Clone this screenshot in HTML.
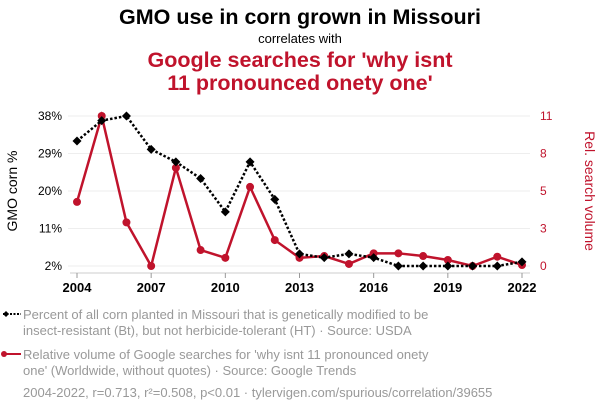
<!DOCTYPE html>
<html><head><meta charset="utf-8"><style>
body{margin:0;background:#fff;font-family:"Liberation Sans",sans-serif;}
svg{display:block}
</style></head><body>
<svg width="600" height="414" xmlns="http://www.w3.org/2000/svg">
<text x="300" y="24" text-anchor="middle" font-size="21.5" font-weight="bold" fill="#000">GMO use in corn grown in Missouri</text>
<text x="300" y="43" text-anchor="middle" font-size="13" fill="#000">correlates with</text>
<text x="300" y="67" text-anchor="middle" font-size="21.5" font-weight="bold" fill="#c0132c">Google searches for 'why isnt</text>
<text x="300" y="90" text-anchor="middle" font-size="21.5" font-weight="bold" fill="#c0132c">11 pronounced onety one'</text>
<g id="grid"></g>
<g id="axes"></g>
<g id="marks"></g>
<text transform="translate(17,191) rotate(-90)" text-anchor="middle" font-size="14" fill="#000">GMO corn %</text>
<text transform="translate(585,191) rotate(90)" text-anchor="middle" font-size="14" fill="#c0132c">Rel. search volume</text>
<g>
<line x1="3" y1="314" x2="21" y2="314" stroke="#000" stroke-width="2" stroke-dasharray="2,1.5"/>
<path d="M3 311 L6 314 L3 317 L0 314Z" fill="#000" transform="translate(3,0)"/>
<text x="23" y="319" font-size="13" fill="#999">Percent of all corn planted in Missouri that is genetically modified to be</text>
<text x="23" y="335" font-size="13" fill="#999">insect-resistant (Bt), but not herbicide-tolerant (HT) · Source: USDA</text>
</g>
<g>
<line x1="3" y1="354" x2="21" y2="354" stroke="#c0132c" stroke-width="2"/>
<circle cx="4" cy="354" r="3" fill="#c0132c"/>
<text x="23" y="359" font-size="13" fill="#999">Relative volume of Google searches for 'why isnt 11 pronounced onety</text>
<text x="23" y="375" font-size="13" fill="#999">one' (Worldwide, without quotes) · Source: Google Trends</text>
</g>
<text x="23" y="397" font-size="13" fill="#999">2004-2022, r=0.713, r²=0.508, p&lt;0.01 · tylervigen.com/spurious/correlation/39655</text>
</svg>
<script>
const years=[2004,2005,2006,2007,2008,2009,2010,2011,2012,2013,2014,2015,2016,2017,2018,2019,2020,2021,2022];
const gmo=[32,36.9,38,30,27,23,15,27,18,4.9,4,4.9,4,2,2,2,2,2,3];
const searches=[4.7,11,3.2,0,7.2,1.17,0.6,5.8,1.9,0.6,0.73,0.15,0.93,0.93,0.73,0.44,0,0.68,0.07];
const leftTicks=[2,11,20,29,38];
const leftTickLabels=["2%","11%","20%","29%","38%"];
const rightTicks=[0,2.75,5.5,8.25,11];
const rightTickLabels=["0","3","5","8","11"];
const xTicks=[2004,2007,2010,2013,2016,2019,2022];

const NS="http://www.w3.org/2000/svg";
const X=y=>77+(y-2004)*(522-77)/18;
const YL=v=>266-(v-2)*150/36;
const YR=v=>266-v*150/11;
function mk(tag,attrs,parent){const e=document.createElementNS(NS,tag);for(const k in attrs)e.setAttribute(k,attrs[k]);parent.appendChild(e);return e;}
const grid=document.getElementById('grid'),axes=document.getElementById('axes'),marks=document.getElementById('marks');
leftTicks.forEach((t,i)=>{
  const l=mk('line',{x1:68,x2:530,y1:YL(t),y2:YL(t),stroke:'#eee','stroke-width':1},grid);
  
  
  const tx=mk('text',{x:62,y:YL(t)+4,'text-anchor':'end','font-size':12,fill:'#000'},axes);
  tx.textContent=leftTickLabels[i];
  
  
});
rightTicks.forEach((t,i)=>{
  const tx=mk('text',{x:540,y:YR(t)+4,'text-anchor':'start','font-size':12,fill:'#c0132c'},axes);
  tx.textContent=rightTickLabels[i];
  
  
});
const ax=mk('line',{x1:70,x2:530,y1:273,y2:273,stroke:'#ccc'},axes);


xTicks.forEach(t=>{
  mk('line',{x1:X(t),x2:X(t),y1:273,y2:278,stroke:'#999'},axes);
  const tx=mk('text',{x:X(t),y:292,'text-anchor':'middle','font-size':13,'font-weight':'bold',fill:'#000'},axes);
  tx.textContent=t;
  
  
});
const rp=mk('polyline',{points:years.map((y,i)=>X(y)+','+YR(searches[i])).join(' '),fill:'none',stroke:'#c0132c','stroke-width':2.5},marks);


const bp=mk('polyline',{points:years.map((y,i)=>X(y)+','+YL(gmo[i])).join(' '),fill:'none',stroke:'#000','stroke-width':2.5,'stroke-dasharray':'2.5,2'},marks);


years.forEach((y,i)=>{
  const c=mk('circle',{cx:X(y),cy:YR(searches[i]),r:4,fill:'#c0132c'},marks);
  
  
});
years.forEach((y,i)=>{
  const cx=X(y),cy=YL(gmo[i]);
  const d=mk('path',{d:`M${cx} ${cy-4.5}L${cx+4.5} ${cy}L${cx} ${cy+4.5}L${cx-4.5} ${cy}Z`,fill:'#000'},marks);
  
  
});
</script>
</body></html>
